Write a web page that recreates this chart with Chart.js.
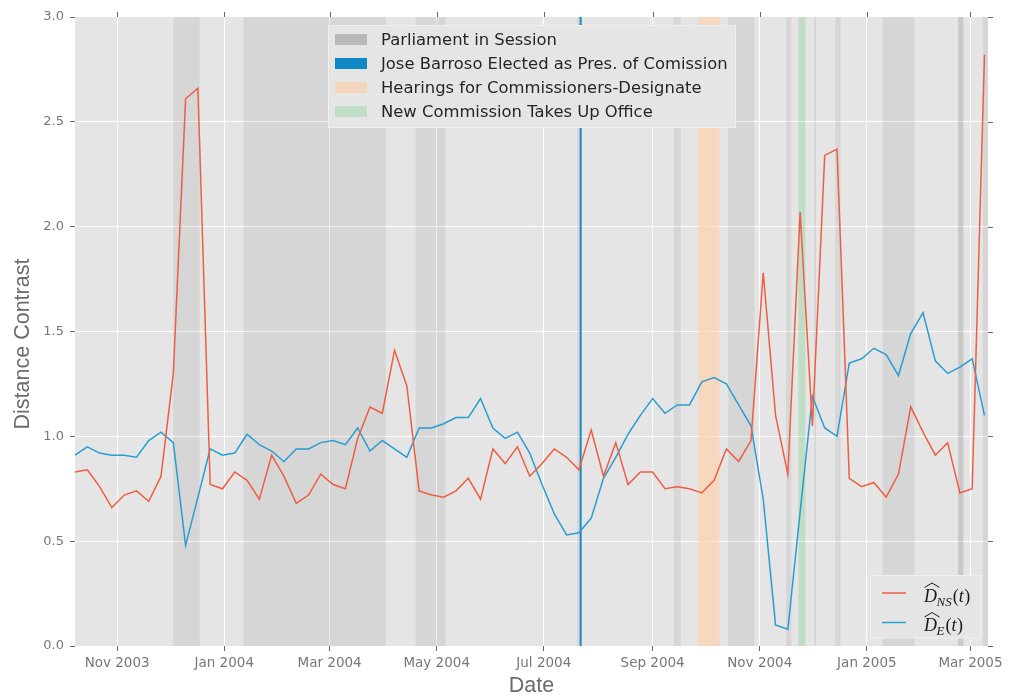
<!DOCTYPE html>
<html><head><meta charset="utf-8">
<script src="https://cdn.jsdelivr.net/npm/chart.js@4.4.1/dist/chart.umd.min.js"></script>
<style>html,body{margin:0;padding:0;background:#fff;}canvas{display:block;}</style>
</head><body>
<canvas id="c" width="1024" height="696"></canvas>
<script>
// ---- data ----
const weekDates = ['2003-10-08','2003-10-15','2003-10-22','2003-10-29','2003-11-05','2003-11-12','2003-11-19','2003-11-26','2003-12-03','2003-12-10','2003-12-17','2003-12-24','2003-12-31','2004-01-07','2004-01-14','2004-01-21','2004-01-28','2004-02-04','2004-02-11','2004-02-18','2004-02-25','2004-03-03','2004-03-10','2004-03-17','2004-03-24','2004-03-31','2004-04-07','2004-04-14','2004-04-21','2004-04-28','2004-05-05','2004-05-12','2004-05-19','2004-05-26','2004-06-02','2004-06-09','2004-06-16','2004-06-23','2004-06-30','2004-07-07','2004-07-14','2004-07-21','2004-07-28','2004-08-04','2004-08-11','2004-08-18','2004-08-25','2004-09-01','2004-09-08','2004-09-15','2004-09-22','2004-09-29','2004-10-06','2004-10-13','2004-10-20','2004-10-27','2004-11-03','2004-11-10','2004-11-17','2004-11-24','2004-12-01','2004-12-08','2004-12-15','2004-12-22','2004-12-29','2005-01-05','2005-01-12','2005-01-19','2005-01-26','2005-02-02','2005-02-09','2005-02-16','2005-02-23','2005-03-02','2005-03-09'];
const dNS = [0.83,0.84,0.76,0.66,0.72,0.74,0.69,0.81,1.30,2.61,2.66,0.77,0.75,0.83,0.79,0.70,0.91,0.81,0.68,0.72,0.82,0.77,0.75,0.99,1.14,1.11,1.41,1.24,0.74,0.72,0.71,0.74,0.80,0.70,0.94,0.87,0.95,0.81,0.87,0.94,0.90,0.84,1.03,0.81,0.97,0.77,0.83,0.83,0.75,0.76,0.75,0.73,0.79,0.94,0.88,0.98,1.78,1.10,0.82,2.07,1.05,2.34,2.37,0.80,0.76,0.78,0.71,0.82,1.14,1.02,0.91,0.97,0.73,0.75,2.82];
const dE = [0.91,0.95,0.92,0.91,0.91,0.90,0.98,1.02,0.97,0.48,0.71,0.94,0.91,0.92,1.01,0.96,0.93,0.88,0.94,0.94,0.97,0.98,0.96,1.04,0.93,0.98,0.94,0.90,1.04,1.04,1.06,1.09,1.09,1.18,1.04,0.99,1.02,0.92,0.77,0.63,0.53,0.54,0.61,0.80,0.90,1.01,1.10,1.18,1.11,1.15,1.15,1.26,1.28,1.25,1.15,1.05,0.70,0.10,0.08,0.64,1.19,1.04,1.00,1.35,1.37,1.42,1.39,1.29,1.49,1.59,1.36,1.30,1.33,1.37,1.10];
const tickDates = ['2003-11-01','2004-01-01','2004-03-01','2004-05-01','2004-07-01','2004-09-01','2004-11-01','2005-01-01','2005-03-01'];
const tickLabels = ['Nov 2003','Jan 2004','Mar 2004','May 2004','Jul 2004','Sep 2004','Nov 2004','Jan 2005','Mar 2005'];
const xRange = ['2003-10-08','2005-03-11'];
const sessionStart = ['2003-12-03','2004-01-12','2004-04-19','2004-07-20','2004-09-13','2004-10-14','2004-11-16','2004-12-02','2004-12-14','2005-01-10','2005-02-22','2005-02-22','2005-03-08'];
const sessionEnd   = ['2003-12-18','2004-04-02','2004-05-06','2004-07-22','2004-09-17','2004-10-29','2004-11-19','2004-12-03','2004-12-17','2005-01-28','2005-02-25','2005-02-25','2005-03-11'];
const barrosoDate = '2004-07-22';
const hearingsRange = ['2004-09-27','2004-10-09'];
const newCommissionRange = ['2004-11-23','2004-11-27'];
const eventLabels = ['Parliament in Session','Jose Barroso Elected as Pres. of Comission','Hearings for Commissioners-Designate','New Commission Takes Up Office'];
const seriesSubs = ['NS','E'];

// ---- helpers ----
const DAY0 = Date.UTC(2004,0,1);
const toDay = s => (Date.parse(s) - DAY0) / 864e5;
const tickDays = tickDates.map(toDay);

const RED = '#EE5E42', BLUE = '#2A9DD1';
const SESSION_FILL = 'rgba(128,128,128,0.15)';
const HEAR_FILL = 'rgba(255,206,164,0.6)';
const NEWC_FILL = 'rgba(93,201,105,0.25)';
const BARROSO = '#1A8AC4';

const bandsPlugin = {
  id: 'bands',
  beforeDatasetsDraw(chart) {
    const {ctx, chartArea: a, scales: {x}} = chart;
    ctx.save();
    ctx.beginPath(); ctx.rect(a.left, a.top, a.right - a.left, a.bottom - a.top); ctx.clip();
    const band = (s, e, col) => {
      const x1 = x.getPixelForValue(toDay(s)), x2 = x.getPixelForValue(toDay(e));
      ctx.fillStyle = col; ctx.fillRect(x1, a.top, x2 - x1, a.bottom - a.top);
    };
    sessionStart.forEach((s, i) => band(s, sessionEnd[i], SESSION_FILL));
    band(hearingsRange[0], hearingsRange[1], HEAR_FILL);
    band(newCommissionRange[0], newCommissionRange[1], NEWC_FILL);
    const bx = x.getPixelForValue(toDay(barrosoDate));
    ctx.strokeStyle = BARROSO; ctx.lineWidth = 2;
    ctx.beginPath(); ctx.moveTo(bx, a.top); ctx.lineTo(bx, a.bottom); ctx.stroke();
    ctx.restore();
  }
};

function drawMath(ctx, x, base, sub) {
  ctx.fillStyle = '#1a1a1a';
  ctx.textBaseline = 'alphabetic'; ctx.textAlign = 'left';
  ctx.font = 'italic 18px "Liberation Serif"';
  const wD = ctx.measureText('D').width;
  ctx.fillText('D', x, base);
  // wide hat
  ctx.strokeStyle = '#1a1a1a'; ctx.lineWidth = 1;
  ctx.beginPath();
  ctx.moveTo(x + 0.5, base - 14); ctx.lineTo(x + wD / 2 + 1.5, base - 18.5); ctx.lineTo(x + wD + 2.5, base - 14);
  ctx.stroke();
  let cx = x + wD - 0.5;
  ctx.font = 'italic 13px "Liberation Serif"';
  ctx.fillText(sub, cx, base + 4);
  cx += ctx.measureText(sub).width + 1;
  ctx.font = '18px "Liberation Serif"';
  ctx.fillText('(', cx, base); cx += ctx.measureText('(').width;
  ctx.font = 'italic 18px "Liberation Serif"';
  ctx.fillText('t', cx, base); cx += ctx.measureText('t').width + 0.5;
  ctx.font = '18px "Liberation Serif"';
  ctx.fillText(')', cx, base);
}

const decorPlugin = {
  id: 'decor',
  afterDraw(chart) {
    const {ctx, chartArea: a, scales: {x, y}} = chart;
    ctx.save();
    // extra tick marks top & right
    ctx.strokeStyle = '#666'; ctx.lineWidth = 1;
    ctx.beginPath();
    tickDays.forEach(d => { const px = Math.round(x.getPixelForValue(d)) + 0.5; ctx.moveTo(px, a.top); ctx.lineTo(px, a.top - 5); });
    y.ticks.forEach(t => { const py = Math.round(y.getPixelForValue(t.value)) + 0.5; ctx.moveTo(a.right, py); ctx.lineTo(a.right + 5, py); });
    ctx.stroke();
    // axis titles
    ctx.fillStyle = '#6b6b6b';
    ctx.font = '21.5px "Liberation Sans"';
    ctx.textAlign = 'center'; ctx.textBaseline = 'alphabetic';
    ctx.fillText('Date', (a.left + a.right) / 2, 692);
    ctx.save();
    ctx.translate(29, 344); ctx.rotate(-Math.PI / 2);
    ctx.fillText('Distance Contrast', 0, 0);
    ctx.restore();
    // legend 1
    const L = 328.5, T = 25.5, W = 407, H = 102;
    ctx.fillStyle = '#E5E5E5'; ctx.fillRect(L, T, W, H);
    ctx.strokeStyle = '#F0F0F0'; ctx.lineWidth = 1; ctx.strokeRect(L, T, W, H);
    const patchCols = ['#B9B9B9', '#1088C2', '#F4D6BD', '#C2DDC5'];
    ctx.font = '16.4px "DejaVu Sans"'; ctx.textAlign = 'left'; ctx.textBaseline = 'alphabetic';
    eventLabels.forEach((lab, i) => {
      const base = 45 + 24 * i;
      ctx.fillStyle = patchCols[i]; ctx.fillRect(335, base - 11, 32, 11);
      ctx.fillStyle = '#262626'; ctx.fillText(lab, 381, base);
    });
    // legend 2
    ctx.fillStyle = '#E5E5E5'; ctx.fillRect(870.5, 575.5, 110.5, 62.5);
    ctx.strokeStyle = '#F0F0F0'; ctx.strokeRect(870.5, 575.5, 110.5, 62.5);
    [RED, BLUE].forEach((c, i) => {
      const ly = 593 + 29.5 * i;
      ctx.strokeStyle = c; ctx.lineWidth = 1.5;
      ctx.beginPath(); ctx.moveTo(882, ly); ctx.lineTo(906, ly); ctx.stroke();
      drawMath(ctx, 924, 601.5 + 29.5 * i, seriesSubs[i]);
    });
    ctx.restore();
  }
};

new Chart(document.getElementById('c'), {
  type: 'line',
  data: {
    datasets: [
      { label: 'D_NS(t)', data: weekDates.map((d, i) => ({x: toDay(d), y: dNS[i]})), borderColor: RED, borderWidth: 1.5, pointRadius: 0, tension: 0, fill: false },
      { label: 'D_E(t)', data: weekDates.map((d, i) => ({x: toDay(d), y: dE[i]})), borderColor: BLUE, borderWidth: 1.5, pointRadius: 0, tension: 0, fill: false }
    ]
  },
  options: {
    responsive: false, animation: false, devicePixelRatio: 1,
    layout: {padding: {top: 17, right: 36, left: 0, bottom: 0}},
    plugins: {legend: {display: false}, tooltip: {enabled: false}},
    scales: {
      x: {
        type: 'linear', min: toDay(xRange[0]), max: toDay(xRange[1]),
        afterFit(s) { s.height = 50; },
        afterBuildTicks(s) { s.ticks = tickDays.map(v => ({value: v})); },
        border: {display: false},
        grid: {color: '#FFFFFF', lineWidth: 1, tickColor: '#666', tickLength: 5},
        ticks: {autoSkip: false, maxRotation: 0, padding: 4, color: '#777', font: {family: 'DejaVu Sans', size: 13.5},
          callback: v => tickLabels[tickDays.indexOf(v)]}
      },
      y: {
        min: 0, max: 3,
        afterFit(s) { s.width = 75; },
        border: {display: false},
        grid: {color: c => (c.tick && (c.tick.value === 0 || c.tick.value === 3)) ? 'rgba(0,0,0,0)' : '#FFFFFF', lineWidth: 1, tickColor: '#666', tickLength: 5},
        ticks: {stepSize: 0.5, padding: 6, color: '#777', font: {family: 'DejaVu Sans', size: 13}, callback: v => v.toFixed(1)}
      }
    }
  },
  plugins: [{id: 'bg', beforeDraw(chart) { const {ctx, chartArea: a} = chart; ctx.save(); ctx.fillStyle = '#E5E5E5'; ctx.fillRect(a.left, a.top, a.right - a.left, a.bottom - a.top); ctx.restore(); }}, bandsPlugin, decorPlugin]
});
</script>
</body></html>
